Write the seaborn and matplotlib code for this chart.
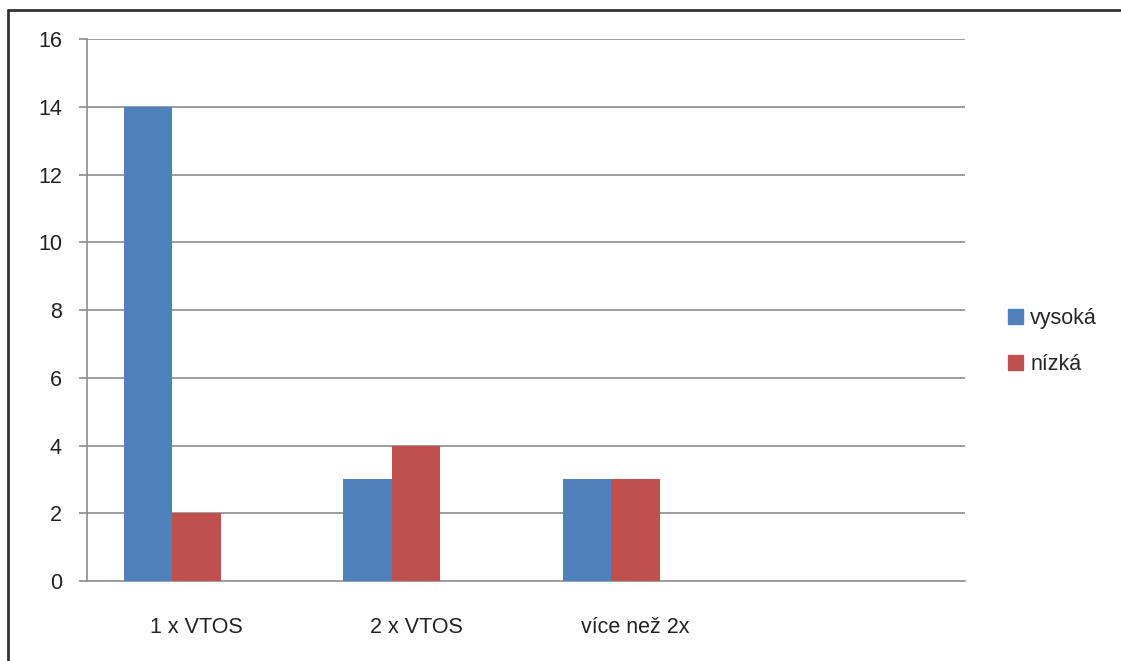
import numpy as np
import pandas as pd
import matplotlib
matplotlib.use("Agg")
import matplotlib.pyplot as plt
from matplotlib.lines import Line2D
import seaborn as sns

categories = ["1 x VTOS", "2 x VTOS", "více než 2x", ""]
vysoka = [14, 3, 3, np.nan]
nizka = [2, 4, 3, np.nan]
prazdna = [np.nan, np.nan, np.nan, np.nan]  # empty third series in the source chart
series = ["vysoká", "nízká", "_prazdna"]
colors = ["#4F81BD", "#C0504D", "#9BBB59"]
yticks = [0, 2, 4, 6, 8, 10, 12, 14, 16]

df = pd.DataFrame({
    "kategorie": categories * 3,
    "pocet": vysoka + nizka + prazdna,
    "rada": [s for s in series for _ in categories],
})

sns.set_style("white")
plt.rcParams["font.family"] = ["Liberation Sans", "DejaVu Sans"]
fs = 15.5

fig = plt.figure(figsize=(11.21, 6.61), dpi=100)
ax = fig.add_axes([0.0776, 0.121, 0.7832, 0.820])

sns.barplot(data=df, x="kategorie", y="pocet", hue="rada", order=categories,
            hue_order=series, palette=colors, width=0.663, saturation=1,
            errorbar=None, linewidth=0, ax=ax, zorder=3)

grid_c = "#8c8c8c"
ax.set_xlim(-0.5, len(categories) - 0.5)
ax.set_ylim(0, 16)
ax.set_yticks(yticks)
ax.set_yticklabels([str(v) for v in yticks], fontsize=fs, color="#222222")
for v in yticks[1:]:
    ax.axhline(v, color=grid_c, lw=1.2, zorder=1)

ax.set_xticks(range(len(categories)))
ax.set_xticklabels(categories, fontsize=fs, color="#222222")
ax.set_xticks(np.arange(-0.5, len(categories), 1.0), minor=True)
ax.tick_params(axis="x", which="major", length=0, pad=26)
ax.tick_params(axis="x", which="minor", length=6, width=1.2, color=grid_c, direction="out")
ax.tick_params(axis="y", length=6, width=1.2, color=grid_c, direction="out", pad=12, left=True)

for s in ["top", "right"]:
    ax.spines[s].set_visible(False)
for s in ["left", "bottom"]:
    ax.spines[s].set_color(grid_c)
    ax.spines[s].set_linewidth(1.2)
ax.set_xlabel("")
ax.set_ylabel("")

ax.legend_.remove()
handles = [plt.Rectangle((0, 0), 1, 1, color=c) for c in colors[:2]]
fig.legend(handles, series[:2], loc="center left", bbox_to_anchor=(0.8815, 0.4835),
           frameon=False, fontsize=fs, handlelength=0.7, handleheight=0.7,
           handletextpad=0.35, labelspacing=1.15)

# outer frame (left and top only visible)
fig.add_artist(Line2D([0.0075, 0.0075], [0, 0.985], transform=fig.transFigure, color="#333333", lw=2))
fig.add_artist(Line2D([0.0075, 1], [0.985, 0.985], transform=fig.transFigure, color="#333333", lw=2))

fig.savefig("out.png", dpi=100)
